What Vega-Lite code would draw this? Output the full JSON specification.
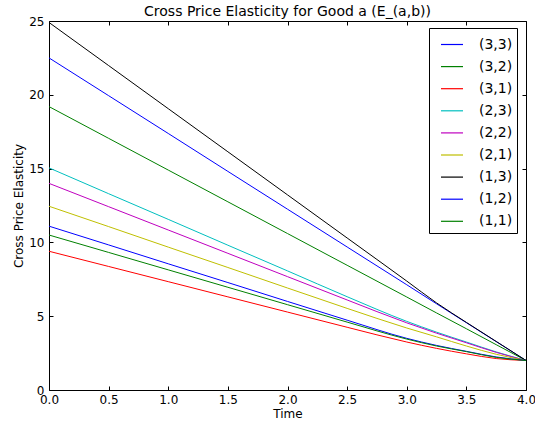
{
  "$schema": "https://vega.github.io/schema/vega-lite/v6.json",
  "autosize": "none",
  "width": 477,
  "height": 369,
  "padding": {"left": 49, "top": 21, "right": 9, "bottom": 33},
  "background": "white",
  "title": {"text": "Cross Price Elasticity for Good a (E_(a,b))", "fontSize": 14, "font": "DejaVu Sans", "fontWeight": "normal", "anchor": "middle", "offset": -4, "color": "black"},
  "config": {
    "view": {"stroke": "black", "strokeWidth": 1},
    "axis": {"grid": false, "domain": false, "tickColor": "black", "tickSize": -4, "tickWidth": 1, "labelFlush": false, "labelFont": "DejaVu Sans", "labelFontSize": 12, "labelColor": "black", "titleFont": "DejaVu Sans", "titleFontSize": 12, "titleFontWeight": "normal", "titleColor": "black"}
  },
  "data": {"values": [
    {"t":0,"v":22.5,"s":"(3,3)"},{"t":0.5,"v":19.94,"s":"(3,3)"},{"t":1,"v":17.38,"s":"(3,3)"},{"t":1.5,"v":14.81,"s":"(3,3)"},{"t":2,"v":12.25,"s":"(3,3)"},{"t":2.5,"v":9.69,"s":"(3,3)"},{"t":3,"v":7.13,"s":"(3,3)"},{"t":3.25,"v":5.84,"s":"(3,3)"},{"t":3.5,"v":4.56,"s":"(3,3)"},{"t":3.75,"v":3.28,"s":"(3,3)"},{"t":4,"v":2.0,"s":"(3,3)"},
    {"t":0,"v":19.2,"s":"(3,2)"},{"t":0.5,"v":17.05,"s":"(3,2)"},{"t":1,"v":14.9,"s":"(3,2)"},{"t":1.5,"v":12.75,"s":"(3,2)"},{"t":2,"v":10.6,"s":"(3,2)"},{"t":2.5,"v":8.45,"s":"(3,2)"},{"t":3,"v":6.3,"s":"(3,2)"},{"t":3.25,"v":5.22,"s":"(3,2)"},{"t":3.5,"v":4.15,"s":"(3,2)"},{"t":3.75,"v":3.07,"s":"(3,2)"},{"t":4,"v":2.0,"s":"(3,2)"},
    {"t":0,"v":9.4,"s":"(3,1)"},{"t":0.5,"v":8.37,"s":"(3,1)"},{"t":1,"v":7.34,"s":"(3,1)"},{"t":1.5,"v":6.31,"s":"(3,1)"},{"t":2,"v":5.28,"s":"(3,1)"},{"t":2.5,"v":4.25,"s":"(3,1)"},{"t":3,"v":3.25,"s":"(3,1)"},{"t":3.25,"v":2.82,"s":"(3,1)"},{"t":3.5,"v":2.45,"s":"(3,1)"},{"t":3.75,"v":2.13,"s":"(3,1)"},{"t":4,"v":2.0,"s":"(3,1)"},
    {"t":0,"v":15.05,"s":"(2,3)"},{"t":0.5,"v":13.3,"s":"(2,3)"},{"t":1,"v":11.56,"s":"(2,3)"},{"t":1.5,"v":9.81,"s":"(2,3)"},{"t":2,"v":8.07,"s":"(2,3)"},{"t":2.5,"v":6.32,"s":"(2,3)"},{"t":3,"v":4.65,"s":"(2,3)"},{"t":3.25,"v":3.92,"s":"(2,3)"},{"t":3.5,"v":3.25,"s":"(2,3)"},{"t":3.75,"v":2.58,"s":"(2,3)"},{"t":4,"v":2.0,"s":"(2,3)"},
    {"t":0,"v":14.0,"s":"(2,2)"},{"t":0.5,"v":12.42,"s":"(2,2)"},{"t":1,"v":10.84,"s":"(2,2)"},{"t":1.5,"v":9.26,"s":"(2,2)"},{"t":2,"v":7.68,"s":"(2,2)"},{"t":2.5,"v":6.1,"s":"(2,2)"},{"t":3,"v":4.55,"s":"(2,2)"},{"t":3.25,"v":3.85,"s":"(2,2)"},{"t":3.5,"v":3.2,"s":"(2,2)"},{"t":3.75,"v":2.55,"s":"(2,2)"},{"t":4,"v":2.0,"s":"(2,2)"},
    {"t":0,"v":12.45,"s":"(2,1)"},{"t":0.5,"v":11.07,"s":"(2,1)"},{"t":1,"v":9.68,"s":"(2,1)"},{"t":1.5,"v":8.3,"s":"(2,1)"},{"t":2,"v":6.91,"s":"(2,1)"},{"t":2.5,"v":5.53,"s":"(2,1)"},{"t":3,"v":4.2,"s":"(2,1)"},{"t":3.25,"v":3.6,"s":"(2,1)"},{"t":3.5,"v":2.98,"s":"(2,1)"},{"t":3.75,"v":2.42,"s":"(2,1)"},{"t":4,"v":2.0,"s":"(2,1)"},
    {"t":0,"v":24.9,"s":"(1,3)"},{"t":0.5,"v":21.98,"s":"(1,3)"},{"t":1,"v":19.06,"s":"(1,3)"},{"t":1.5,"v":16.14,"s":"(1,3)"},{"t":2,"v":13.22,"s":"(1,3)"},{"t":2.5,"v":10.3,"s":"(1,3)"},{"t":3,"v":7.38,"s":"(1,3)"},{"t":3.25,"v":5.9,"s":"(1,3)"},{"t":3.5,"v":4.58,"s":"(1,3)"},{"t":3.75,"v":3.29,"s":"(1,3)"},{"t":4,"v":2.0,"s":"(1,3)"},
    {"t":0,"v":11.1,"s":"(1,2)"},{"t":0.5,"v":9.83,"s":"(1,2)"},{"t":1,"v":8.55,"s":"(1,2)"},{"t":1.5,"v":7.28,"s":"(1,2)"},{"t":2,"v":6.0,"s":"(1,2)"},{"t":2.5,"v":4.73,"s":"(1,2)"},{"t":3,"v":3.5,"s":"(1,2)"},{"t":3.25,"v":3.02,"s":"(1,2)"},{"t":3.5,"v":2.62,"s":"(1,2)"},{"t":3.75,"v":2.24,"s":"(1,2)"},{"t":4,"v":2.0,"s":"(1,2)"},
    {"t":0,"v":10.5,"s":"(1,1)"},{"t":0.5,"v":9.32,"s":"(1,1)"},{"t":1,"v":8.14,"s":"(1,1)"},{"t":1.5,"v":6.96,"s":"(1,1)"},{"t":2,"v":5.78,"s":"(1,1)"},{"t":2.5,"v":4.6,"s":"(1,1)"},{"t":3,"v":3.45,"s":"(1,1)"},{"t":3.25,"v":2.98,"s":"(1,1)"},{"t":3.5,"v":2.6,"s":"(1,1)"},{"t":3.75,"v":2.21,"s":"(1,1)"},{"t":4,"v":2.0,"s":"(1,1)"}
  ]},
  "layer": [
    {
      "mark": {"type": "line", "strokeWidth": 1, "interpolate": "monotone", "clip": true},
      "encoding": {
        "x": {"field": "t", "type": "quantitative", "scale": {"domain": [0, 4], "nice": false, "zero": false},
              "axis": {"orient": "bottom", "values": [0,0.5,1,1.5,2,2.5,3,3.5,4], "format": ".1f", "labelPadding": 8, "title": "Time", "titlePadding": 3}},
        "y": {"field": "v", "type": "quantitative", "scale": {"domain": [0, 25], "nice": false},
              "axis": {"orient": "left", "values": [0,5,10,15,20,25], "format": "d", "labelPadding": 9, "title": "Cross Price Elasticity", "titlePadding": 3}},
        "color": {"field": "s", "type": "nominal",
                  "scale": {"domain": ["(3,3)","(3,2)","(3,1)","(2,3)","(2,2)","(2,1)","(1,3)","(1,2)","(1,1)"],
                            "range": ["#0000ff","#008000","#ff0000","#00bfbf","#bf00bf","#bfbf00","#000000","#0000ff","#008000"]},
                  "legend": {"orient": "none", "legendX": 380, "legendY": 7, "title": null, "strokeColor": "black", "fillColor": "white", "padding": 4.5, "cornerRadius": 0,
                             "symbolType": "stroke", "symbolSize": 484, "symbolStrokeWidth": 1.2, "labelFont": "DejaVu Sans", "labelFontSize": 14, "labelColor": "black", "rowPadding": 3.1, "labelOffset": 15, "symbolOffset": 6.5}}
      }
    },
    {
      "mark": {"type": "line", "strokeOpacity": 0},
      "encoding": {
        "x": {"field": "t", "type": "quantitative", "scale": {"domain": [0, 4], "nice": false, "zero": false},
              "axis": {"orient": "top", "values": [0,0.5,1,1.5,2,2.5,3,3.5,4], "labels": false, "title": null}},
        "y": {"field": "v", "type": "quantitative", "scale": {"domain": [0, 25], "nice": false},
              "axis": {"orient": "right", "values": [0,5,10,15,20,25], "labels": false, "title": null}},
        "detail": {"field": "s", "type": "nominal"}
      }
    }
  ],
  "resolve": {"axis": {"x": "independent", "y": "independent"}}
}
